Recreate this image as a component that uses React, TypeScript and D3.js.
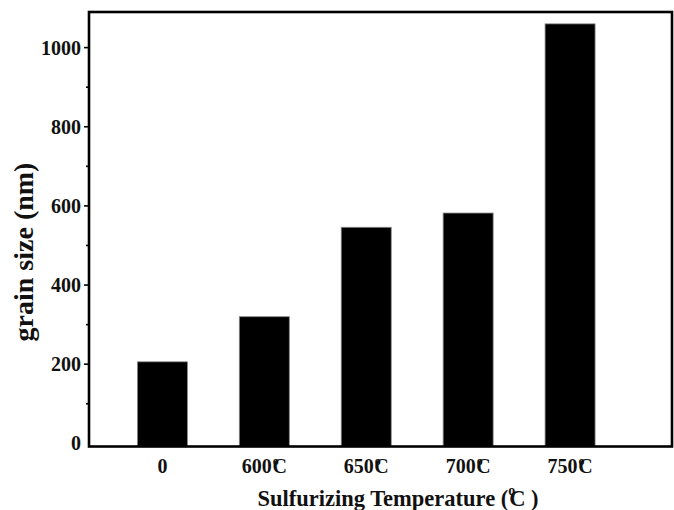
import React from "react";
import * as d3 from "d3";

const categories = ["0", "600", "650", "700", "750"];
const hasDegree = [false, true, true, true, true];
const grainSize = [206, 320, 546, 582, 1060];
const yTicks = [0, 200, 400, 600, 800, 1000];
const yMinorTicks = [100, 300, 500, 700, 900];

const W = 674;
const H = 510;
const left = 89;
const right = 672;
const top = 12;
const bottom = 446.5;
const FONT = "'Liberation Serif', 'Times New Roman', serif";

function DegLabel({ x, y, num, size, deg }: { x: number; y: number; num: string; size: number; deg: boolean }) {
  return (
    <text x={x} y={y} textAnchor="middle" fontFamily={FONT} fontWeight="bold" fontSize={size} fill="#111">
      {num}
      {deg && (
        <>
          <tspan fontSize={size * 0.6} dy={-size * 0.42} dx={1}>o</tspan>
          <tspan dx={-size * 0.32} dy={size * 0.42}>C</tspan>
        </>
      )}
    </text>
  );
}

export default function App() {
  const x = d3.scaleLinear().domain([-0.72, 5.0]).range([left, right]);
  const y = d3.scaleLinear().domain([-8, 1090]).range([bottom, top]);
  const barW = 50;

  return (
    <svg width={W} height={H} style={{ position: "absolute", left: 0, top: 0, background: "#fff" }}>
      {grainSize.map((v, i) => (
        <rect
          key={i}
          x={x(i) - barW / 2}
          y={y(v)}
          width={barW}
          height={bottom - y(v)}
          fill="#000"
          stroke="#888"
          strokeWidth={0.8}
        />
      ))}
      <rect x={left} y={top} width={right - left} height={bottom - top} fill="none" stroke="#000" strokeWidth={2.6} />
      {yTicks.map((t) => (
        <g key={t}>
          {t !== 0 && <line x1={left - 5} x2={left} y1={y(t)} y2={y(t)} stroke="#000" strokeWidth={1.6} />}
          <text x={81} y={y(t)} dy="0.35em" textAnchor="end" fontFamily={FONT} fontWeight="bold" fontSize={20} fill="#111">
            {t}
          </text>
        </g>
      ))}
      {yMinorTicks.map((t) => (
        <line key={t} x1={left - 3} x2={left} y1={y(t)} y2={y(t)} stroke="#000" strokeWidth={1.6} />
      ))}
      {categories.map((c, i) => (
        <DegLabel key={c} x={x(i)} y={473} num={c} size={20} deg={hasDegree[i]} />
      ))}
      <text
        transform={`translate(33,252) rotate(-90)`}
        textAnchor="middle"
        fontFamily={FONT}
        fontWeight="bold"
        fontSize={28}
        fill="#111"
      >
        grain size (nm)
      </text>
      <text x={398} y={506} textAnchor="middle" fontFamily={FONT} fontWeight="bold" fontSize={22.5} fill="#111">
        Sulfurizing Temperature (
        <tspan fontSize={14} dy={-11}>o</tspan>
        <tspan dx={-6} dy={11}>C</tspan>
        {" )"}
      </text>
    </svg>
  );
}
